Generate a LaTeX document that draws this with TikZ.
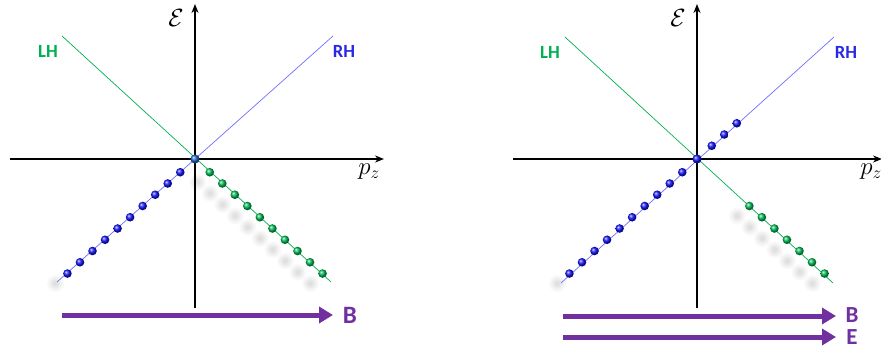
\documentclass[tikz,border=0pt]{standalone}
\usepackage{fontspec}
\setmainfont{Carlito}
\usetikzlibrary{arrows.meta,calc}
\definecolor{lhgreen}{RGB}{0,176,80}
\definecolor{rhblue}{RGB}{40,40,230}
\definecolor{rhlinecol}{RGB}{110,110,255}
\definecolor{fieldpurple}{RGB}{112,48,160}
\definecolor{origblue}{RGB}{30,100,200}
\definecolor{dotgreen}{RGB}{0,190,85}
\definecolor{dotblue}{RGB}{20,20,255}
\tikzset{
  axisline/.style={line width=2.6pt, -{Stealth[length=9pt,width=7pt]}},
  lhline/.style={lhgreen, line width=0.7pt},
  rhline/.style={rhlinecol, line width=0.7pt},
  fieldarrow/.style={fieldpurple, line width=5pt, -{Triangle[length=14pt,width=16pt]}},
  lhlabel/.style={lhgreen, font=\fontsize{18.6}{20}\selectfont\bfseries, inner sep=0pt},
  rhlabel/.style={rhblue, font=\fontsize{18.6}{20}\selectfont\bfseries, inner sep=0pt},
  fieldlabel/.style={fieldpurple, font=\fontsize{25}{26}\selectfont\bfseries, inner sep=0pt},
  fieldlabelsm/.style={fieldpurple, font=\fontsize{23}{24}\selectfont\bfseries, inner sep=0pt},
  mathlabel/.style={font=\fontsize{27}{29}\selectfont, inner sep=0pt},
}
\newcommand{\shadowblob}[1]{%
  \fill[black,opacity=0.025] #1 circle (8.5);
  \fill[black,opacity=0.03] #1 circle (6.5);
  \fill[black,opacity=0.035] #1 circle (4.5);
  \fill[black,opacity=0.035] #1 circle (2.5);
}
\begin{document}
\begin{tikzpicture}[x=1pt,y=-1pt]
\useasboundingbox (0,0) rectangle (881,350);
% ---------- coordinates ----------
\coordinate (O1) at (195,159);
\coordinate (O2) at (697,159);
% ---------- shadows ----------
\foreach \k in {0,...,9} {
  \shadowblob{($(O1)+({0.744*(19.8+16.85*\k)-12},{0.668*(19.8+16.85*\k)+10})$)}
}
\shadowblob{($(O1)+({-0.744*(19.8+16.85*9)-12},{0.668*(19.8+16.85*9)+10})$)}
\foreach \k in {3,...,9} {
  \shadowblob{($(O2)+({0.744*(19.8+16.85*\k)-12},{0.668*(19.8+16.85*\k)+10})$)}
}
\shadowblob{($(O2)+({-0.744*(19.8+16.85*9)-12},{0.668*(19.8+16.85*9)+10})$)}
% ---------- left panel ----------
\coordinate (LHa1) at (62,36);
\coordinate (LHb1) at (331,282);
\coordinate (RHa1) at (333,36);
\coordinate (RHb1) at (57,282);
\draw[lhline] (LHa1) -- (LHb1);
\draw[rhline] (RHa1) -- (RHb1);
\coordinate (Vb1) at (195,308);
\coordinate (Vt1) at (195,4);
\coordinate (Hl1) at (10,159);
\coordinate (Hr1) at (384,159);
\draw[axisline] (Vb1) -- (Vt1);
\draw[axisline] (Hl1) -- (Hr1);
\foreach \k in {0,...,9} {
  \shade[ball color=dotblue] ($(O1)+({-0.744*(19.8+16.85*\k)},{0.668*(19.8+16.85*\k)})$) circle (4.3);
  \shade[ball color=dotgreen] ($(O1)+({0.744*(19.8+16.85*\k)},{0.668*(19.8+16.85*\k)})$) circle (4.3);
}
\shade[ball color=origblue] (O1) circle (4.6);
\node[lhlabel] (lh1) at (48,51) {LH};
\node[rhlabel] (rh1) at (344,51) {RH};
\node[mathlabel] (en1) at (176,18) {$\mathcal{E}$};
\node[mathlabel] (pz1) at (369,172) {$p_z$};
\coordinate (Bs1) at (62,315);
\coordinate (Be1) at (333,315);
\draw[fieldarrow] (Bs1) -- (Be1);
\node[fieldlabel] (B1) at (350,315) {B};
% ---------- right panel ----------
\coordinate (LHa2) at (565,37);
\coordinate (LHb2) at (833,283);
\coordinate (RHa2) at (834,37);
\coordinate (RHb2) at (561,283);
\draw[lhline] (LHa2) -- (LHb2);
\draw[rhline] (RHa2) -- (RHb2);
\coordinate (Vb2) at (697,308);
\coordinate (Vt2) at (697,4);
\coordinate (Hl2) at (513,159);
\coordinate (Hr2) at (882,159);
\draw[axisline] (Vb2) -- (Vt2);
\draw[axisline] (Hl2) -- (Hr2);
\foreach \k in {0,...,9} {
  \shade[ball color=dotblue] ($(O2)+({-0.744*(19.8+16.85*\k)},{0.668*(19.8+16.85*\k)})$) circle (4.3);
}
\foreach \k in {0,1,2} {
  \shade[ball color=dotblue] ($(O2)+({0.744*(19.8+16.85*\k)},{-0.668*(19.8+16.85*\k)})$) circle (4.3);
}
\foreach \k in {3,...,9} {
  \shade[ball color=dotgreen] ($(O2)+({0.744*(19.8+16.85*\k)},{0.668*(19.8+16.85*\k)})$) circle (4.3);
}
\shade[ball color=dotblue] (O2) circle (4.6);
\node[lhlabel] (lh2) at (550,52) {LH};
\node[rhlabel] (rh2) at (846,52) {RH};
\node[mathlabel] (en2) at (678,18) {$\mathcal{E}$};
\node[mathlabel] (pz2) at (871,172) {$p_z$};
\coordinate (Bs2) at (563,316);
\coordinate (Be2) at (836,316);
\coordinate (Es2) at (563,337);
\coordinate (Ee2) at (836,337);
\draw[fieldarrow] (Bs2) -- (Be2);
\draw[fieldarrow] (Es2) -- (Ee2);
\node[fieldlabelsm] (B2) at (852,315) {B};
\node[fieldlabelsm] (E2) at (852,337) {E};
\end{tikzpicture}
\end{document}
